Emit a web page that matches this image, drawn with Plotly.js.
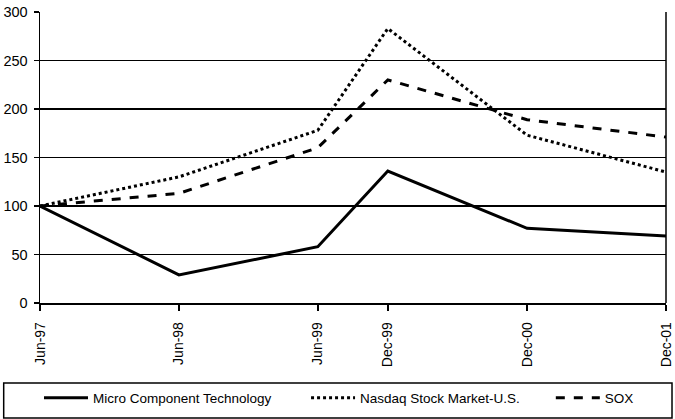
<!DOCTYPE html>
<html><head><meta charset="utf-8">
<script src="https://cdn.plot.ly/plotly-3.0.1.min.js"></script>
<style>html,body{margin:0;padding:0;background:#fff}#chart{width:675px;height:419px}</style>
</head><body><div id="chart"></div>
<script>
const dates = ["1997-06-30","1998-06-30","1999-06-30","1999-12-31","2000-12-31","2001-12-31"];
const tickLabels = ["Jun-97","Jun-98","Jun-99","Dec-99","Dec-00","Dec-01"];
const micro = [100, 29, 58, 136, 77, 69];
const nasdaq = [100, 130, 178, 283, 173, 135];
const sox = [100, 113, 160, 230, 189, 171];

const mk = (name, y, dash, leg) => ({
  x: dates, y: y, name: name, type: 'scatter', mode: 'lines', legend: leg,
  line: {color: '#000', width: 3, dash: dash}
});
const data = [
  mk('Micro Component Technology', micro, 'solid', 'legend'),
  mk('Nasdaq Stock Market-U.S.', nasdaq, 'dot', 'legend2'),
  mk('SOX', sox, 'dash', 'legend3')
];
const legBase = (x) => ({
  orientation: 'h', x: x, xanchor: 'left', yref: 'container', y: 0.087, yanchor: 'top',
  font: {size: 13.5}, bgcolor: 'rgba(0,0,0,0)', itemwidth: 44, borderwidth: 0
});
const layout = {
  width: 675, height: 419,
  margin: {l: 40, r: 9, t: 12, b: 116},
  paper_bgcolor: '#fff', plot_bgcolor: '#fff',
  font: {family: 'Liberation Sans, Arial, sans-serif', color: '#000', size: 13},
  showlegend: true,
  xaxis: {
    type: 'date', range: [dates[0], dates[dates.length-1]],
    tickmode: 'array', tickvals: dates, ticktext: tickLabels,
    tickangle: -90, ticks: 'outside', ticklen: 6, tickwidth: 1.5, tickcolor: '#000',
    ticklabelstandoff: 6,
    showline: true, linecolor: '#000', linewidth: 1.5, mirror: false,
    showgrid: false, zeroline: false, tickfont: {size: 14}
  },
  yaxis: {
    range: [0, 300], tickvals: [0,50,100,150,200,250,300],
    ticks: 'outside', ticklen: 5, tickwidth: 1.5, tickcolor: '#000',
    ticklabelstandoff: 3,
    showline: true, linecolor: '#000', linewidth: 1.5,
    showgrid: true, gridcolor: '#000', gridwidth: 1.5, zeroline: false,
    tickfont: {size: 14.5}
  },
  shapes: [
    {type: 'line', xref: 'paper', yref: 'paper', x0: 1, x1: 1, y0: 0, y1: 1,
     line: {color: '#000', width: 1.5}},
    {type: 'rect', xref: 'paper', yref: 'paper', x0: -0.058, x1: 1.0096, y0: -0.395, y1: -0.275,
     line: {color: '#000', width: 1.5}, fillcolor: 'rgba(0,0,0,0)'}
  ],
  legend: legBase(-0.0016),
  legend2: legBase(0.425),
  legend3: legBase(0.816)
};
Plotly.newPlot('chart', data, layout, {displayModeBar: false, staticPlot: true});
</script></body></html>
